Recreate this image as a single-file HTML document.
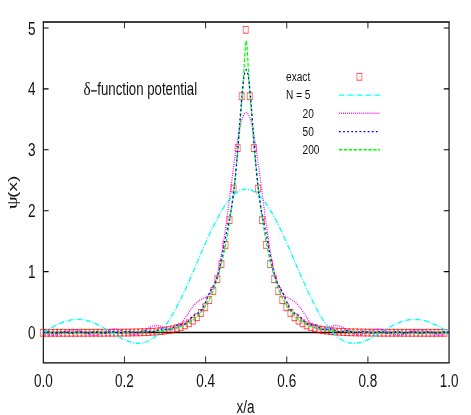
<!DOCTYPE html>
<html><head><meta charset="utf-8"><title>delta-function potential</title>
<style>html,body{margin:0;padding:0;background:#fff;}svg{display:block;will-change:transform;}text{font-family:"Liberation Sans",sans-serif;fill:#111;}</style></head><body>
<svg width="471" height="415" viewBox="0 0 471 415">
<rect x="0" y="0" width="471" height="415" fill="#ffffff"/>
<g stroke="#000" fill="none" stroke-linecap="butt">
<path stroke-width="1.45" d="M42.75,22.00H449.60M42.75,362.85H449.60"/>
<path stroke-width="1.10" d="M43.30,22.00V362.85M449.05,22.00V362.85"/>
<path stroke-width="0.9" stroke="#111" d="M124.45,362.85v-6.40M124.45,22.00v6.40M205.60,362.85v-6.40M205.60,22.00v6.40M286.75,362.85v-6.40M286.75,22.00v6.40M367.90,362.85v-6.40M367.90,22.00v6.40"/>
<path stroke-width="1.1" stroke="#000" d="M43.30,332.50h5.30M449.05,332.50h-5.30M43.30,271.60h5.30M449.05,271.60h-5.30M43.30,210.70h5.30M449.05,210.70h-5.30M43.30,149.80h5.30M449.05,149.80h-5.30M43.30,88.90h5.30M449.05,88.90h-5.30M43.30,28.00h5.30M449.05,28.00h-5.30"/>
<path d="M43.30,332.50 H449.05" stroke-width="1.35"/>
</g>
<text transform="translate(43.30,387.40) scale(0.713,1)" font-size="19.00" text-anchor="middle" >0.0</text>
<text transform="translate(124.45,387.40) scale(0.713,1)" font-size="19.00" text-anchor="middle" >0.2</text>
<text transform="translate(205.60,387.40) scale(0.713,1)" font-size="19.00" text-anchor="middle" >0.4</text>
<text transform="translate(286.75,387.40) scale(0.713,1)" font-size="19.00" text-anchor="middle" >0.6</text>
<text transform="translate(367.90,387.40) scale(0.713,1)" font-size="19.00" text-anchor="middle" >0.8</text>
<text transform="translate(449.05,387.40) scale(0.713,1)" font-size="19.00" text-anchor="middle" >1.0</text>
<text transform="translate(35.60,339.00) scale(0.713,1)" font-size="19.00" text-anchor="end" >0</text>
<text transform="translate(35.60,278.10) scale(0.713,1)" font-size="19.00" text-anchor="end" >1</text>
<text transform="translate(35.60,217.20) scale(0.713,1)" font-size="19.00" text-anchor="end" >2</text>
<text transform="translate(35.60,156.30) scale(0.713,1)" font-size="19.00" text-anchor="end" >3</text>
<text transform="translate(35.60,95.40) scale(0.713,1)" font-size="19.00" text-anchor="end" >4</text>
<text transform="translate(35.60,34.50) scale(0.713,1)" font-size="19.00" text-anchor="end" >5</text>
<text transform="translate(245.50,412.60) scale(0.713,1)" font-size="19.00" text-anchor="middle" >x/a</text>
<text transform="translate(17.0,209.3) scale(0.713,1) rotate(-90)" font-size="20.71" style="font-family:'Liberation Serif',serif">&#968;</text>
<text transform="translate(16.9,197.9) scale(0.713,1) rotate(-90)" font-size="19.00">(x)</text>
<text transform="translate(83.6,95) scale(0.80,1)" font-size="19.00" style="font-family:'Liberation Serif',serif">&#948;</text>
<path d="M90.9,90.9 H96.9" stroke="#111" stroke-width="1.3" fill="none"/>
<text transform="translate(97.3,95) scale(0.695,1)" font-size="19.00">function potential</text>
<text transform="translate(286.00,81.30) scale(0.740,1)" font-size="13.70" text-anchor="start" >exact</text>
<text transform="translate(286.00,99.40) scale(0.740,1)" font-size="13.70" text-anchor="start" >N = 5</text>
<text transform="translate(302.60,117.60) scale(0.740,1)" font-size="13.70" text-anchor="start" >20</text>
<text transform="translate(302.60,135.90) scale(0.740,1)" font-size="13.70" text-anchor="start" >50</text>
<text transform="translate(302.60,154.10) scale(0.740,1)" font-size="13.70" text-anchor="start" >200</text>
<g stroke="#ff0000" fill="none">
<path stroke-width="0.70" d="M40.15,329.40H45.65M40.15,336.20H45.65M44.21,329.40H49.71M44.21,336.20H49.71M48.27,329.40H53.77M48.27,336.20H53.77M52.32,329.40H57.82M52.32,336.20H57.82M56.38,329.40H61.88M56.38,336.20H61.88M60.44,329.40H65.94M60.44,336.20H65.94M64.49,329.39H69.99M64.49,336.19H69.99M68.55,329.39H74.05M68.55,336.19H74.05M72.61,329.39H78.11M72.61,336.19H78.11M76.67,329.39H82.17M76.67,336.19H82.17M80.72,329.38H86.22M80.72,336.18H86.22M84.78,329.38H90.28M84.78,336.18H90.28M88.84,329.38H94.34M88.84,336.18H94.34M92.90,329.37H98.40M92.90,336.17H98.40M96.95,329.36H102.45M96.95,336.16H102.45M101.01,329.35H106.51M101.01,336.15H106.51M105.07,329.33H110.57M105.07,336.13H110.57M109.13,329.31H114.63M109.13,336.11H114.63M113.18,329.29H118.68M113.18,336.09H118.68M117.24,329.26H122.74M117.24,336.06H122.74M121.30,329.22H126.80M121.30,336.02H126.80M125.36,329.17H130.86M125.36,335.97H130.86M129.41,329.10H134.91M129.41,335.90H134.91M133.47,329.02H138.97M133.47,335.82H138.97M137.53,328.91H143.03M137.53,335.71H143.03M141.59,328.78H147.09M141.59,335.58H147.09M145.65,328.60H151.15M145.65,335.40H151.15M149.70,328.38H155.20M149.70,335.18H155.20M153.76,328.09H159.26M153.76,334.89H159.26M157.82,327.72H163.32M157.82,334.52H163.32M161.87,327.25H167.37M161.87,334.05H167.37M165.93,326.65H171.43M165.93,333.45H171.43M169.99,325.88H175.49M169.99,332.68H175.49M174.05,324.89H179.55M174.05,331.69H179.55M178.10,323.62H183.60M178.10,330.42H183.60M182.16,322.00H187.66M182.16,328.80H187.66M186.22,319.93H191.72M186.22,326.73H191.72M190.28,317.26H195.78M190.28,324.06H195.78M194.34,313.86H199.84M194.34,320.66H199.84M198.39,309.49H203.89M198.39,316.29H203.89M202.45,303.90H207.95M202.45,310.70H207.95M206.51,296.74H212.01M206.51,303.54H212.01M210.56,287.57H216.06M210.56,294.37H216.06M214.62,275.82H220.12M214.62,282.62H220.12M218.68,260.78H224.18M218.68,267.58H224.18M222.74,241.50H228.24M222.74,248.30H228.24M226.79,216.82H232.29M226.79,223.62H232.29M230.85,185.21H236.35M230.85,192.01H236.35M234.91,144.72H240.41M234.91,151.52H240.41M238.97,92.85H244.47M238.97,99.65H244.47M243.03,26.43H248.53M243.03,33.23H248.53M247.08,92.85H252.58M247.08,99.65H252.58M251.14,144.72H256.64M251.14,151.52H256.64M255.20,185.21H260.70M255.20,192.01H260.70M259.26,216.82H264.76M259.26,223.62H264.76M263.31,241.50H268.81M263.31,248.30H268.81M267.37,260.78H272.87M267.37,267.58H272.87M271.43,275.82H276.93M271.43,282.62H276.93M275.49,287.57H280.99M275.49,294.37H280.99M279.54,296.74H285.04M279.54,303.54H285.04M283.60,303.90H289.10M283.60,310.70H289.10M287.66,309.49H293.16M287.66,316.29H293.16M291.72,313.86H297.22M291.72,320.66H297.22M295.77,317.26H301.27M295.77,324.06H301.27M299.83,319.93H305.33M299.83,326.73H305.33M303.89,322.00H309.39M303.89,328.80H309.39M307.95,323.62H313.45M307.95,330.42H313.45M312.00,324.89H317.50M312.00,331.69H317.50M316.06,325.88H321.56M316.06,332.68H321.56M320.12,326.65H325.62M320.12,333.45H325.62M324.18,327.25H329.68M324.18,334.05H329.68M328.23,327.72H333.73M328.23,334.52H333.73M332.29,328.09H337.79M332.29,334.89H337.79M336.35,328.38H341.85M336.35,335.18H341.85M340.41,328.60H345.91M340.41,335.40H345.91M344.46,328.78H349.96M344.46,335.58H349.96M348.52,328.91H354.02M348.52,335.71H354.02M352.58,329.02H358.08M352.58,335.82H358.08M356.64,329.10H362.14M356.64,335.90H362.14M360.69,329.17H366.19M360.69,335.97H366.19M364.75,329.22H370.25M364.75,336.02H370.25M368.81,329.26H374.31M368.81,336.06H374.31M372.87,329.29H378.37M372.87,336.09H378.37M376.92,329.31H382.42M376.92,336.11H382.42M380.98,329.33H386.48M380.98,336.13H386.48M385.04,329.35H390.54M385.04,336.15H390.54M389.10,329.36H394.60M389.10,336.16H394.60M393.15,329.37H398.65M393.15,336.17H398.65M397.21,329.38H402.71M397.21,336.18H402.71M401.27,329.38H406.77M401.27,336.18H406.77M405.33,329.38H410.83M405.33,336.18H410.83M409.38,329.39H414.88M409.38,336.19H414.88M413.44,329.39H418.94M413.44,336.19H418.94M417.50,329.39H423.00M417.50,336.19H423.00M421.56,329.39H427.06M421.56,336.19H427.06M425.61,329.40H431.11M425.61,336.20H431.11M429.67,329.40H435.17M429.67,336.20H435.17M433.73,329.40H439.23M433.73,336.20H439.23M437.79,329.40H443.29M437.79,336.20H443.29M441.84,329.40H447.34M441.84,336.20H447.34M356.65,73.40H362.15M356.65,80.20H362.15"/>
<path stroke-width="0.50" d="M40.40,329.40V336.20M45.40,329.40V336.20M44.46,329.40V336.20M49.46,329.40V336.20M48.52,329.40V336.20M53.52,329.40V336.20M52.57,329.40V336.20M57.57,329.40V336.20M56.63,329.40V336.20M61.63,329.40V336.20M60.69,329.40V336.20M65.69,329.40V336.20M64.74,329.39V336.19M69.74,329.39V336.19M68.80,329.39V336.19M73.80,329.39V336.19M72.86,329.39V336.19M77.86,329.39V336.19M76.92,329.39V336.19M81.92,329.39V336.19M80.97,329.38V336.18M85.97,329.38V336.18M85.03,329.38V336.18M90.03,329.38V336.18M89.09,329.38V336.18M94.09,329.38V336.18M93.15,329.37V336.17M98.15,329.37V336.17M97.20,329.36V336.16M102.20,329.36V336.16M101.26,329.35V336.15M106.26,329.35V336.15M105.32,329.33V336.13M110.32,329.33V336.13M109.38,329.31V336.11M114.38,329.31V336.11M113.43,329.29V336.09M118.43,329.29V336.09M117.49,329.26V336.06M122.49,329.26V336.06M121.55,329.22V336.02M126.55,329.22V336.02M125.61,329.17V335.97M130.61,329.17V335.97M129.66,329.10V335.90M134.66,329.10V335.90M133.72,329.02V335.82M138.72,329.02V335.82M137.78,328.91V335.71M142.78,328.91V335.71M141.84,328.78V335.58M146.84,328.78V335.58M145.90,328.60V335.40M150.90,328.60V335.40M149.95,328.38V335.18M154.95,328.38V335.18M154.01,328.09V334.89M159.01,328.09V334.89M158.07,327.72V334.52M163.07,327.72V334.52M162.12,327.25V334.05M167.12,327.25V334.05M166.18,326.65V333.45M171.18,326.65V333.45M170.24,325.88V332.68M175.24,325.88V332.68M174.30,324.89V331.69M179.30,324.89V331.69M178.35,323.62V330.42M183.35,323.62V330.42M182.41,322.00V328.80M187.41,322.00V328.80M186.47,319.93V326.73M191.47,319.93V326.73M190.53,317.26V324.06M195.53,317.26V324.06M194.59,313.86V320.66M199.59,313.86V320.66M198.64,309.49V316.29M203.64,309.49V316.29M202.70,303.90V310.70M207.70,303.90V310.70M206.76,296.74V303.54M211.76,296.74V303.54M210.81,287.57V294.37M215.81,287.57V294.37M214.87,275.82V282.62M219.87,275.82V282.62M218.93,260.78V267.58M223.93,260.78V267.58M222.99,241.50V248.30M227.99,241.50V248.30M227.04,216.82V223.62M232.04,216.82V223.62M231.10,185.21V192.01M236.10,185.21V192.01M235.16,144.72V151.52M240.16,144.72V151.52M239.22,92.85V99.65M244.22,92.85V99.65M243.28,26.43V33.23M248.28,26.43V33.23M247.33,92.85V99.65M252.33,92.85V99.65M251.39,144.72V151.52M256.39,144.72V151.52M255.45,185.21V192.01M260.45,185.21V192.01M259.51,216.82V223.62M264.51,216.82V223.62M263.56,241.50V248.30M268.56,241.50V248.30M267.62,260.78V267.58M272.62,260.78V267.58M271.68,275.82V282.62M276.68,275.82V282.62M275.74,287.57V294.37M280.74,287.57V294.37M279.79,296.74V303.54M284.79,296.74V303.54M283.85,303.90V310.70M288.85,303.90V310.70M287.91,309.49V316.29M292.91,309.49V316.29M291.97,313.86V320.66M296.97,313.86V320.66M296.02,317.26V324.06M301.02,317.26V324.06M300.08,319.93V326.73M305.08,319.93V326.73M304.14,322.00V328.80M309.14,322.00V328.80M308.20,323.62V330.42M313.20,323.62V330.42M312.25,324.89V331.69M317.25,324.89V331.69M316.31,325.88V332.68M321.31,325.88V332.68M320.37,326.65V333.45M325.37,326.65V333.45M324.43,327.25V334.05M329.43,327.25V334.05M328.48,327.72V334.52M333.48,327.72V334.52M332.54,328.09V334.89M337.54,328.09V334.89M336.60,328.38V335.18M341.60,328.38V335.18M340.66,328.60V335.40M345.66,328.60V335.40M344.71,328.78V335.58M349.71,328.78V335.58M348.77,328.91V335.71M353.77,328.91V335.71M352.83,329.02V335.82M357.83,329.02V335.82M356.89,329.10V335.90M361.89,329.10V335.90M360.94,329.17V335.97M365.94,329.17V335.97M365.00,329.22V336.02M370.00,329.22V336.02M369.06,329.26V336.06M374.06,329.26V336.06M373.12,329.29V336.09M378.12,329.29V336.09M377.17,329.31V336.11M382.17,329.31V336.11M381.23,329.33V336.13M386.23,329.33V336.13M385.29,329.35V336.15M390.29,329.35V336.15M389.35,329.36V336.16M394.35,329.36V336.16M393.40,329.37V336.17M398.40,329.37V336.17M397.46,329.38V336.18M402.46,329.38V336.18M401.52,329.38V336.18M406.52,329.38V336.18M405.58,329.38V336.18M410.58,329.38V336.18M409.63,329.39V336.19M414.63,329.39V336.19M413.69,329.39V336.19M418.69,329.39V336.19M417.75,329.39V336.19M422.75,329.39V336.19M421.81,329.39V336.19M426.81,329.39V336.19M425.86,329.40V336.20M430.86,329.40V336.20M429.92,329.40V336.20M434.92,329.40V336.20M433.98,329.40V336.20M438.98,329.40V336.20M438.04,329.40V336.20M443.04,329.40V336.20M442.09,329.40V336.20M447.09,329.40V336.20M356.90,73.40V80.20M361.90,73.40V80.20"/>
<path stroke-width="0.6" stroke-opacity="0.7" d="M42.60,332.80h0.6M46.66,332.80h0.6M50.72,332.80h0.6M54.77,332.80h0.6M58.83,332.80h0.6M62.89,332.80h0.6M66.94,332.79h0.6M71.00,332.79h0.6M75.06,332.79h0.6M79.12,332.79h0.6M83.17,332.78h0.6M87.23,332.78h0.6M91.29,332.78h0.6M95.35,332.77h0.6M99.41,332.76h0.6M103.46,332.75h0.6M107.52,332.73h0.6M111.58,332.71h0.6M115.63,332.69h0.6M119.69,332.66h0.6M123.75,332.62h0.6M127.81,332.57h0.6M131.86,332.50h0.6M135.92,332.42h0.6M139.98,332.31h0.6M144.04,332.18h0.6M148.09,332.00h0.6M152.15,331.78h0.6M156.21,331.49h0.6M160.27,331.12h0.6M164.32,330.65h0.6M168.38,330.05h0.6M172.44,329.28h0.6M176.50,328.29h0.6M180.55,327.02h0.6M184.61,325.40h0.6M188.67,323.33h0.6M192.73,320.66h0.6M196.78,317.26h0.6M200.84,312.89h0.6M204.90,307.30h0.6M208.96,300.14h0.6M213.01,290.97h0.6M217.07,279.22h0.6M221.13,264.18h0.6M225.19,244.90h0.6M229.24,220.22h0.6M233.30,188.61h0.6M237.36,148.12h0.6M241.42,96.25h0.6M245.47,29.83h0.6M249.53,96.25h0.6M253.59,148.12h0.6M257.65,188.61h0.6M261.71,220.22h0.6M265.76,244.90h0.6M269.82,264.18h0.6M273.88,279.22h0.6M277.94,290.97h0.6M281.99,300.14h0.6M286.05,307.30h0.6M290.11,312.89h0.6M294.17,317.26h0.6M298.22,320.66h0.6M302.28,323.33h0.6M306.34,325.40h0.6M310.40,327.02h0.6M314.45,328.29h0.6M318.51,329.28h0.6M322.57,330.05h0.6M326.62,330.65h0.6M330.68,331.12h0.6M334.74,331.49h0.6M338.80,331.78h0.6M342.86,332.00h0.6M346.91,332.18h0.6M350.97,332.31h0.6M355.03,332.42h0.6M359.09,332.50h0.6M363.14,332.57h0.6M367.20,332.62h0.6M371.26,332.66h0.6M375.31,332.69h0.6M379.37,332.71h0.6M383.43,332.73h0.6M387.49,332.75h0.6M391.55,332.76h0.6M395.60,332.77h0.6M399.66,332.78h0.6M403.72,332.78h0.6M407.78,332.78h0.6M411.83,332.79h0.6M415.89,332.79h0.6M419.95,332.79h0.6M424.00,332.79h0.6M428.06,332.80h0.6M432.12,332.80h0.6M436.18,332.80h0.6M440.24,332.80h0.6M444.29,332.80h0.6M359.10,76.80h0.6"/>
</g>
<g fill="none" stroke-width="1.40" stroke-linejoin="round" transform="scale(0.890,1)">
<path d="M380.90,95.10 H426.97" stroke="#00ffff" stroke-dasharray="5.6 1.7 1.1 1.7"/>
<path d="M380.90,113.30 H426.97" stroke="#ff00ff" stroke-dasharray="1.0 1.28"/>
<path d="M380.90,131.60 H426.97" stroke="#0000ff" stroke-dasharray="2.0 2.6"/>
<path d="M380.90,149.80 H426.97" stroke="#00ff00" stroke-dasharray="3.8 1.7"/>
<path d="M48.65,332.50 L49.56,332.01 L50.48,331.53 L51.39,331.04 L52.30,330.56 L53.21,330.08 L54.12,329.60 L55.03,329.13 L55.95,328.66 L56.86,328.20 L57.77,327.74 L58.68,327.29 L59.59,326.84 L60.51,326.41 L61.42,325.98 L62.33,325.56 L63.24,325.15 L64.15,324.75 L65.06,324.36 L65.98,323.98 L66.89,323.62 L67.80,323.26 L68.71,322.92 L69.62,322.59 L70.53,322.28 L71.45,321.98 L72.36,321.69 L73.27,321.42 L74.18,321.17 L75.09,320.92 L76.01,320.70 L76.92,320.49 L77.83,320.30 L78.74,320.12 L79.65,319.97 L80.56,319.83 L81.48,319.70 L82.39,319.60 L83.30,319.51 L84.21,319.44 L85.12,319.39 L86.04,319.36 L86.95,319.34 L87.86,319.35 L88.77,319.37 L89.68,319.41 L90.59,319.47 L91.51,319.55 L92.42,319.64 L93.33,319.75 L94.24,319.89 L95.15,320.04 L96.07,320.20 L96.98,320.39 L97.89,320.59 L98.80,320.81 L99.71,321.04 L100.62,321.29 L101.54,321.56 L102.45,321.84 L103.36,322.14 L104.27,322.46 L105.18,322.78 L106.09,323.13 L107.01,323.48 L107.92,323.85 L108.83,324.23 L109.74,324.62 L110.65,325.03 L111.57,325.44 L112.48,325.87 L113.39,326.30 L114.30,326.74 L115.21,327.19 L116.12,327.65 L117.04,328.12 L117.95,328.59 L118.86,329.07 L119.77,329.55 L120.68,330.04 L121.60,330.53 L122.51,331.02 L123.42,331.51 L124.33,332.01 L125.24,332.50 L126.15,333.00 L127.07,333.49 L127.98,333.98 L128.89,334.46 L129.80,334.94 L130.71,335.42 L131.63,335.89 L132.54,336.36 L133.45,336.81 L134.36,337.26 L135.27,337.70 L136.18,338.13 L137.10,338.54 L138.01,338.95 L138.92,339.34 L139.83,339.72 L140.74,340.08 L141.66,340.43 L142.57,340.76 L143.48,341.08 L144.39,341.38 L145.30,341.66 L146.21,341.91 L147.13,342.15 L148.04,342.37 L148.95,342.57 L149.86,342.74 L150.77,342.89 L151.68,343.01 L152.60,343.11 L153.51,343.19 L154.42,343.24 L155.33,343.26 L156.24,343.25 L157.16,343.22 L158.07,343.16 L158.98,343.06 L159.89,342.94 L160.80,342.79 L161.71,342.61 L162.63,342.39 L163.54,342.15 L164.45,341.87 L165.36,341.56 L166.27,341.21 L167.19,340.83 L168.10,340.42 L169.01,339.98 L169.92,339.50 L170.83,338.98 L171.74,338.43 L172.66,337.85 L173.57,337.23 L174.48,336.57 L175.39,335.88 L176.30,335.16 L177.22,334.40 L178.13,333.60 L179.04,332.77 L179.95,331.90 L180.86,331.00 L181.77,330.06 L182.69,329.09 L183.60,328.09 L184.51,327.05 L185.42,325.97 L186.33,324.86 L187.24,323.72 L188.16,322.54 L189.07,321.34 L189.98,320.10 L190.89,318.82 L191.80,317.52 L192.72,316.18 L193.63,314.82 L194.54,313.42 L195.45,312.00 L196.36,310.55 L197.27,309.07 L198.19,307.56 L199.10,306.03 L200.01,304.47 L200.92,302.88 L201.83,301.27 L202.75,299.64 L203.66,297.99 L204.57,296.31 L205.48,294.61 L206.39,292.90 L207.30,291.16 L208.22,289.41 L209.13,287.64 L210.04,285.85 L210.95,284.05 L211.86,282.24 L212.78,280.41 L213.69,278.57 L214.60,276.73 L215.51,274.87 L216.42,273.00 L217.33,271.13 L218.25,269.25 L219.16,267.37 L220.07,265.48 L220.98,263.59 L221.89,261.70 L222.81,259.81 L223.72,257.92 L224.63,256.03 L225.54,254.15 L226.45,252.27 L227.36,250.40 L228.28,248.54 L229.19,246.68 L230.10,244.84 L231.01,243.00 L231.92,241.18 L232.83,239.37 L233.75,237.58 L234.66,235.80 L235.57,234.04 L236.48,232.30 L237.39,230.57 L238.31,228.87 L239.22,227.19 L240.13,225.54 L241.04,223.90 L241.95,222.30 L242.86,220.72 L243.78,219.16 L244.69,217.64 L245.60,216.15 L246.51,214.68 L247.42,213.25 L248.34,211.85 L249.25,210.49 L250.16,209.16 L251.07,207.86 L251.98,206.61 L252.89,205.39 L253.81,204.21 L254.72,203.06 L255.63,201.96 L256.54,200.90 L257.45,199.88 L258.37,198.90 L259.28,197.97 L260.19,197.08 L261.10,196.23 L262.01,195.43 L262.92,194.68 L263.84,193.97 L264.75,193.31 L265.66,192.69 L266.57,192.12 L267.48,191.60 L268.39,191.13 L269.31,190.71 L270.22,190.34 L271.13,190.01 L272.04,189.74 L272.95,189.51 L273.87,189.34 L274.78,189.21 L275.69,189.14 L276.60,189.11 L277.51,189.14 L278.42,189.21 L279.34,189.34 L280.25,189.51 L281.16,189.74 L282.07,190.01 L282.98,190.34 L283.90,190.71 L284.81,191.13 L285.72,191.60 L286.63,192.12 L287.54,192.69 L288.45,193.31 L289.37,193.97 L290.28,194.68 L291.19,195.43 L292.10,196.23 L293.01,197.08 L293.93,197.97 L294.84,198.90 L295.75,199.88 L296.66,200.90 L297.57,201.96 L298.48,203.06 L299.40,204.21 L300.31,205.39 L301.22,206.61 L302.13,207.86 L303.04,209.16 L303.96,210.49 L304.87,211.85 L305.78,213.25 L306.69,214.68 L307.60,216.15 L308.51,217.64 L309.43,219.16 L310.34,220.72 L311.25,222.30 L312.16,223.90 L313.07,225.54 L313.98,227.19 L314.90,228.87 L315.81,230.57 L316.72,232.30 L317.63,234.04 L318.54,235.80 L319.46,237.58 L320.37,239.37 L321.28,241.18 L322.19,243.00 L323.10,244.84 L324.01,246.68 L324.93,248.54 L325.84,250.40 L326.75,252.27 L327.66,254.15 L328.57,256.03 L329.49,257.92 L330.40,259.81 L331.31,261.70 L332.22,263.59 L333.13,265.48 L334.04,267.37 L334.96,269.25 L335.87,271.13 L336.78,273.00 L337.69,274.87 L338.60,276.73 L339.52,278.57 L340.43,280.41 L341.34,282.24 L342.25,284.05 L343.16,285.85 L344.07,287.64 L344.99,289.41 L345.90,291.16 L346.81,292.90 L347.72,294.61 L348.63,296.31 L349.54,297.99 L350.46,299.64 L351.37,301.27 L352.28,302.88 L353.19,304.47 L354.10,306.03 L355.02,307.56 L355.93,309.07 L356.84,310.55 L357.75,312.00 L358.66,313.42 L359.57,314.82 L360.49,316.18 L361.40,317.52 L362.31,318.82 L363.22,320.10 L364.13,321.34 L365.05,322.54 L365.96,323.72 L366.87,324.86 L367.78,325.97 L368.69,327.05 L369.60,328.09 L370.52,329.09 L371.43,330.06 L372.34,331.00 L373.25,331.90 L374.16,332.77 L375.08,333.60 L375.99,334.40 L376.90,335.16 L377.81,335.88 L378.72,336.57 L379.63,337.23 L380.55,337.85 L381.46,338.43 L382.37,338.98 L383.28,339.50 L384.19,339.98 L385.11,340.42 L386.02,340.83 L386.93,341.21 L387.84,341.56 L388.75,341.87 L389.66,342.15 L390.58,342.39 L391.49,342.61 L392.40,342.79 L393.31,342.94 L394.22,343.06 L395.13,343.16 L396.05,343.22 L396.96,343.25 L397.87,343.26 L398.78,343.24 L399.69,343.19 L400.61,343.11 L401.52,343.01 L402.43,342.89 L403.34,342.74 L404.25,342.57 L405.16,342.37 L406.08,342.15 L406.99,341.91 L407.90,341.66 L408.81,341.38 L409.72,341.08 L410.64,340.76 L411.55,340.43 L412.46,340.08 L413.37,339.72 L414.28,339.34 L415.19,338.95 L416.11,338.54 L417.02,338.13 L417.93,337.70 L418.84,337.26 L419.75,336.81 L420.67,336.36 L421.58,335.89 L422.49,335.42 L423.40,334.94 L424.31,334.46 L425.22,333.98 L426.14,333.49 L427.05,333.00 L427.96,332.50 L428.87,332.01 L429.78,331.51 L430.69,331.02 L431.61,330.53 L432.52,330.04 L433.43,329.55 L434.34,329.07 L435.25,328.59 L436.17,328.12 L437.08,327.65 L437.99,327.19 L438.90,326.74 L439.81,326.30 L440.72,325.87 L441.64,325.44 L442.55,325.03 L443.46,324.62 L444.37,324.23 L445.28,323.85 L446.20,323.48 L447.11,323.13 L448.02,322.78 L448.93,322.46 L449.84,322.14 L450.75,321.84 L451.67,321.56 L452.58,321.29 L453.49,321.04 L454.40,320.81 L455.31,320.59 L456.23,320.39 L457.14,320.20 L458.05,320.04 L458.96,319.89 L459.87,319.75 L460.78,319.64 L461.70,319.55 L462.61,319.47 L463.52,319.41 L464.43,319.37 L465.34,319.35 L466.26,319.34 L467.17,319.36 L468.08,319.39 L468.99,319.44 L469.90,319.51 L470.81,319.60 L471.73,319.70 L472.64,319.83 L473.55,319.97 L474.46,320.12 L475.37,320.30 L476.28,320.49 L477.20,320.70 L478.11,320.92 L479.02,321.17 L479.93,321.42 L480.84,321.69 L481.76,321.98 L482.67,322.28 L483.58,322.59 L484.49,322.92 L485.40,323.26 L486.31,323.62 L487.23,323.98 L488.14,324.36 L489.05,324.75 L489.96,325.15 L490.87,325.56 L491.79,325.98 L492.70,326.41 L493.61,326.84 L494.52,327.29 L495.43,327.74 L496.34,328.20 L497.26,328.66 L498.17,329.13 L499.08,329.60 L499.99,330.08 L500.90,330.56 L501.82,331.04 L502.73,331.53 L503.64,332.01 L504.55,332.50" stroke="#00ffff" stroke-dasharray="5.6 1.7 1.1 1.7"/>
<path d="M48.65,332.50 L49.56,332.81 L50.48,333.12 L51.39,333.42 L52.30,333.70 L53.21,333.97 L54.12,334.21 L55.03,334.42 L55.95,334.60 L56.86,334.75 L57.77,334.87 L58.68,334.94 L59.59,334.98 L60.51,334.98 L61.42,334.94 L62.33,334.86 L63.24,334.74 L64.15,334.58 L65.06,334.40 L65.98,334.18 L66.89,333.93 L67.80,333.66 L68.71,333.37 L69.62,333.07 L70.53,332.75 L71.45,332.43 L72.36,332.11 L73.27,331.80 L74.18,331.50 L75.09,331.21 L76.01,330.94 L76.92,330.69 L77.83,330.47 L78.74,330.28 L79.65,330.13 L80.56,330.01 L81.48,329.93 L82.39,329.89 L83.30,329.89 L84.21,329.93 L85.12,330.01 L86.04,330.13 L86.95,330.29 L87.86,330.48 L88.77,330.70 L89.68,330.96 L90.59,331.23 L91.51,331.53 L92.42,331.84 L93.33,332.16 L94.24,332.48 L95.15,332.81 L96.07,333.13 L96.98,333.44 L97.89,333.73 L98.80,334.01 L99.71,334.26 L100.62,334.48 L101.54,334.67 L102.45,334.82 L103.36,334.93 L104.27,335.01 L105.18,335.04 L106.09,335.03 L107.01,334.97 L107.92,334.87 L108.83,334.73 L109.74,334.56 L110.65,334.34 L111.57,334.09 L112.48,333.81 L113.39,333.51 L114.30,333.18 L115.21,332.83 L116.12,332.48 L117.04,332.12 L117.95,331.75 L118.86,331.40 L119.77,331.05 L120.68,330.72 L121.60,330.41 L122.51,330.12 L123.42,329.87 L124.33,329.65 L125.24,329.47 L126.15,329.33 L127.07,329.23 L127.98,329.18 L128.89,329.17 L129.80,329.21 L130.71,329.29 L131.63,329.42 L132.54,329.59 L133.45,329.80 L134.36,330.04 L135.27,330.32 L136.18,330.62 L137.10,330.95 L138.01,331.29 L138.92,331.64 L139.83,332.00 L140.74,332.36 L141.66,332.72 L142.57,333.05 L143.48,333.37 L144.39,333.67 L145.30,333.93 L146.21,334.16 L147.13,334.35 L148.04,334.49 L148.95,334.59 L149.86,334.64 L150.77,334.63 L151.68,334.57 L152.60,334.46 L153.51,334.29 L154.42,334.07 L155.33,333.80 L156.24,333.48 L157.16,333.12 L158.07,332.72 L158.98,332.28 L159.89,331.82 L160.80,331.33 L161.71,330.82 L162.63,330.31 L163.54,329.79 L164.45,329.27 L165.36,328.77 L166.27,328.28 L167.19,327.82 L168.10,327.38 L169.01,326.98 L169.92,326.63 L170.83,326.31 L171.74,326.05 L172.66,325.84 L173.57,325.68 L174.48,325.58 L175.39,325.54 L176.30,325.55 L177.22,325.62 L178.13,325.73 L179.04,325.90 L179.95,326.10 L180.86,326.35 L181.77,326.63 L182.69,326.93 L183.60,327.25 L184.51,327.58 L185.42,327.91 L186.33,328.24 L187.24,328.54 L188.16,328.83 L189.07,329.08 L189.98,329.28 L190.89,329.44 L191.80,329.54 L192.72,329.57 L193.63,329.53 L194.54,329.41 L195.45,329.22 L196.36,328.93 L197.27,328.56 L198.19,328.09 L199.10,327.54 L200.01,326.90 L200.92,326.17 L201.83,325.36 L202.75,324.46 L203.66,323.50 L204.57,322.46 L205.48,321.37 L206.39,320.23 L207.30,319.04 L208.22,317.82 L209.13,316.57 L210.04,315.31 L210.95,314.05 L211.86,312.80 L212.78,311.57 L213.69,310.36 L214.60,309.18 L215.51,308.06 L216.42,306.98 L217.33,305.96 L218.25,305.00 L219.16,304.11 L220.07,303.28 L220.98,302.52 L221.89,301.83 L222.81,301.21 L223.72,300.64 L224.63,300.12 L225.54,299.65 L226.45,299.21 L227.36,298.80 L228.28,298.39 L229.19,297.99 L230.10,297.55 L231.01,297.08 L231.92,296.56 L232.83,295.96 L233.75,295.26 L234.66,294.45 L235.57,293.51 L236.48,292.41 L237.39,291.14 L238.31,289.68 L239.22,288.01 L240.13,286.12 L241.04,283.98 L241.95,281.60 L242.86,278.94 L243.78,276.02 L244.69,272.81 L245.60,269.32 L246.51,265.54 L247.42,261.48 L248.34,257.14 L249.25,252.52 L250.16,247.64 L251.07,242.52 L251.98,237.15 L252.89,231.57 L253.81,225.80 L254.72,219.86 L255.63,213.78 L256.54,207.58 L257.45,201.30 L258.37,194.98 L259.28,188.64 L260.19,182.32 L261.10,176.06 L262.01,169.90 L262.92,163.87 L263.84,158.02 L264.75,152.37 L265.66,146.98 L266.57,141.86 L267.48,137.07 L268.39,132.62 L269.31,128.55 L270.22,124.89 L271.13,121.67 L272.04,118.90 L272.95,116.60 L273.87,114.80 L274.78,113.51 L275.69,112.73 L276.60,112.47 L277.51,112.73 L278.42,113.51 L279.34,114.80 L280.25,116.60 L281.16,118.90 L282.07,121.67 L282.98,124.89 L283.90,128.55 L284.81,132.62 L285.72,137.07 L286.63,141.86 L287.54,146.98 L288.45,152.37 L289.37,158.02 L290.28,163.87 L291.19,169.90 L292.10,176.06 L293.01,182.32 L293.93,188.64 L294.84,194.98 L295.75,201.30 L296.66,207.58 L297.57,213.78 L298.48,219.86 L299.40,225.80 L300.31,231.57 L301.22,237.15 L302.13,242.52 L303.04,247.64 L303.96,252.52 L304.87,257.14 L305.78,261.48 L306.69,265.54 L307.60,269.32 L308.51,272.81 L309.43,276.02 L310.34,278.94 L311.25,281.60 L312.16,283.98 L313.07,286.12 L313.98,288.01 L314.90,289.68 L315.81,291.14 L316.72,292.41 L317.63,293.51 L318.54,294.45 L319.46,295.26 L320.37,295.96 L321.28,296.56 L322.19,297.08 L323.10,297.55 L324.01,297.99 L324.93,298.39 L325.84,298.80 L326.75,299.21 L327.66,299.65 L328.57,300.12 L329.49,300.64 L330.40,301.21 L331.31,301.83 L332.22,302.52 L333.13,303.28 L334.04,304.11 L334.96,305.00 L335.87,305.96 L336.78,306.98 L337.69,308.06 L338.60,309.18 L339.52,310.36 L340.43,311.57 L341.34,312.80 L342.25,314.05 L343.16,315.31 L344.07,316.57 L344.99,317.82 L345.90,319.04 L346.81,320.23 L347.72,321.37 L348.63,322.46 L349.54,323.50 L350.46,324.46 L351.37,325.36 L352.28,326.17 L353.19,326.90 L354.10,327.54 L355.02,328.09 L355.93,328.56 L356.84,328.93 L357.75,329.22 L358.66,329.41 L359.57,329.53 L360.49,329.57 L361.40,329.54 L362.31,329.44 L363.22,329.28 L364.13,329.08 L365.05,328.83 L365.96,328.54 L366.87,328.24 L367.78,327.91 L368.69,327.58 L369.60,327.25 L370.52,326.93 L371.43,326.63 L372.34,326.35 L373.25,326.10 L374.16,325.90 L375.08,325.73 L375.99,325.62 L376.90,325.55 L377.81,325.54 L378.72,325.58 L379.63,325.68 L380.55,325.84 L381.46,326.05 L382.37,326.31 L383.28,326.63 L384.19,326.98 L385.11,327.38 L386.02,327.82 L386.93,328.28 L387.84,328.77 L388.75,329.27 L389.66,329.79 L390.58,330.31 L391.49,330.82 L392.40,331.33 L393.31,331.82 L394.22,332.28 L395.13,332.72 L396.05,333.12 L396.96,333.48 L397.87,333.80 L398.78,334.07 L399.69,334.29 L400.61,334.46 L401.52,334.57 L402.43,334.63 L403.34,334.64 L404.25,334.59 L405.16,334.49 L406.08,334.35 L406.99,334.16 L407.90,333.93 L408.81,333.67 L409.72,333.37 L410.64,333.05 L411.55,332.72 L412.46,332.36 L413.37,332.00 L414.28,331.64 L415.19,331.29 L416.11,330.95 L417.02,330.62 L417.93,330.32 L418.84,330.04 L419.75,329.80 L420.67,329.59 L421.58,329.42 L422.49,329.29 L423.40,329.21 L424.31,329.17 L425.22,329.18 L426.14,329.23 L427.05,329.33 L427.96,329.47 L428.87,329.65 L429.78,329.87 L430.69,330.12 L431.61,330.41 L432.52,330.72 L433.43,331.05 L434.34,331.40 L435.25,331.75 L436.17,332.12 L437.08,332.48 L437.99,332.83 L438.90,333.18 L439.81,333.51 L440.72,333.81 L441.64,334.09 L442.55,334.34 L443.46,334.56 L444.37,334.73 L445.28,334.87 L446.20,334.97 L447.11,335.03 L448.02,335.04 L448.93,335.01 L449.84,334.93 L450.75,334.82 L451.67,334.67 L452.58,334.48 L453.49,334.26 L454.40,334.01 L455.31,333.73 L456.23,333.44 L457.14,333.13 L458.05,332.81 L458.96,332.48 L459.87,332.16 L460.78,331.84 L461.70,331.53 L462.61,331.23 L463.52,330.96 L464.43,330.70 L465.34,330.48 L466.26,330.29 L467.17,330.13 L468.08,330.01 L468.99,329.93 L469.90,329.89 L470.81,329.89 L471.73,329.93 L472.64,330.01 L473.55,330.13 L474.46,330.28 L475.37,330.47 L476.28,330.69 L477.20,330.94 L478.11,331.21 L479.02,331.50 L479.93,331.80 L480.84,332.11 L481.76,332.43 L482.67,332.75 L483.58,333.07 L484.49,333.37 L485.40,333.66 L486.31,333.93 L487.23,334.18 L488.14,334.40 L489.05,334.58 L489.96,334.74 L490.87,334.86 L491.79,334.94 L492.70,334.98 L493.61,334.98 L494.52,334.94 L495.43,334.87 L496.34,334.75 L497.26,334.60 L498.17,334.42 L499.08,334.21 L499.99,333.97 L500.90,333.70 L501.82,333.42 L502.73,333.12 L503.64,332.81 L504.55,332.50" stroke="#ff00ff" stroke-dasharray="1.0 1.28"/>
<path d="M48.65,332.50 L49.56,332.53 L50.48,332.52 L51.39,332.48 L52.30,332.46 L53.21,332.50 L54.12,332.53 L55.03,332.52 L55.95,332.48 L56.86,332.46 L57.77,332.50 L58.68,332.53 L59.59,332.52 L60.51,332.48 L61.42,332.46 L62.33,332.50 L63.24,332.53 L64.15,332.52 L65.06,332.47 L65.98,332.46 L66.89,332.50 L67.80,332.53 L68.71,332.52 L69.62,332.47 L70.53,332.46 L71.45,332.49 L72.36,332.53 L73.27,332.52 L74.18,332.47 L75.09,332.46 L76.01,332.49 L76.92,332.53 L77.83,332.51 L78.74,332.47 L79.65,332.46 L80.56,332.49 L81.48,332.53 L82.39,332.51 L83.30,332.47 L84.21,332.45 L85.12,332.49 L86.04,332.52 L86.95,332.51 L87.86,332.46 L88.77,332.45 L89.68,332.49 L90.59,332.52 L91.51,332.51 L92.42,332.46 L93.33,332.45 L94.24,332.48 L95.15,332.52 L96.07,332.50 L96.98,332.46 L97.89,332.44 L98.80,332.48 L99.71,332.51 L100.62,332.50 L101.54,332.45 L102.45,332.43 L103.36,332.47 L104.27,332.51 L105.18,332.49 L106.09,332.44 L107.01,332.42 L107.92,332.46 L108.83,332.50 L109.74,332.48 L110.65,332.43 L111.57,332.41 L112.48,332.45 L113.39,332.49 L114.30,332.47 L115.21,332.42 L116.12,332.40 L117.04,332.44 L117.95,332.47 L118.86,332.45 L119.77,332.40 L120.68,332.38 L121.60,332.42 L122.51,332.45 L123.42,332.43 L124.33,332.38 L125.24,332.36 L126.15,332.40 L127.07,332.43 L127.98,332.41 L128.89,332.35 L129.80,332.33 L130.71,332.37 L131.63,332.40 L132.54,332.38 L133.45,332.32 L134.36,332.30 L135.27,332.33 L136.18,332.37 L137.10,332.34 L138.01,332.28 L138.92,332.25 L139.83,332.29 L140.74,332.32 L141.66,332.29 L142.57,332.23 L143.48,332.20 L144.39,332.23 L145.30,332.26 L146.21,332.23 L147.13,332.16 L148.04,332.12 L148.95,332.15 L149.86,332.18 L150.77,332.15 L151.68,332.07 L152.60,332.03 L153.51,332.06 L154.42,332.08 L155.33,332.04 L156.24,331.96 L157.16,331.92 L158.07,331.94 L158.98,331.96 L159.89,331.91 L160.80,331.82 L161.71,331.77 L162.63,331.79 L163.54,331.80 L164.45,331.74 L165.36,331.64 L166.27,331.58 L167.19,331.59 L168.10,331.60 L169.01,331.53 L169.92,331.41 L170.83,331.34 L171.74,331.34 L172.66,331.34 L173.57,331.26 L174.48,331.13 L175.39,331.04 L176.30,331.02 L177.22,331.01 L178.13,330.91 L179.04,330.76 L179.95,330.65 L180.86,330.62 L181.77,330.59 L182.69,330.47 L183.60,330.29 L184.51,330.16 L185.42,330.11 L186.33,330.05 L187.24,329.90 L188.16,329.70 L189.07,329.54 L189.98,329.46 L190.89,329.37 L191.80,329.18 L192.72,328.94 L193.63,328.74 L194.54,328.62 L195.45,328.50 L196.36,328.27 L197.27,327.98 L198.19,327.73 L199.10,327.56 L200.01,327.39 L200.92,327.11 L201.83,326.75 L202.75,326.44 L203.66,326.22 L204.57,325.98 L205.48,325.62 L206.39,325.19 L207.30,324.80 L208.22,324.50 L209.13,324.18 L210.04,323.73 L210.95,323.20 L211.86,322.71 L212.78,322.32 L213.69,321.89 L214.60,321.33 L215.51,320.67 L216.42,320.06 L217.33,319.53 L218.25,318.98 L219.16,318.27 L220.07,317.45 L220.98,316.68 L221.89,315.99 L222.81,315.27 L223.72,314.38 L224.63,313.35 L225.54,312.37 L226.45,311.49 L227.36,310.55 L228.28,309.41 L229.19,308.14 L230.10,306.90 L231.01,305.75 L231.92,304.53 L232.83,303.10 L233.75,301.49 L234.66,299.92 L235.57,298.44 L236.48,296.88 L237.39,295.06 L238.31,293.04 L239.22,291.04 L240.13,289.14 L241.04,287.13 L241.95,284.82 L242.86,282.27 L243.78,279.74 L244.69,277.30 L245.60,274.72 L246.51,271.79 L247.42,268.57 L248.34,265.35 L249.25,262.22 L250.16,258.93 L251.07,255.20 L251.98,251.12 L252.89,247.03 L253.81,243.03 L254.72,238.83 L255.63,234.08 L256.54,228.90 L257.45,223.70 L258.37,218.60 L259.28,213.24 L260.19,207.20 L261.10,200.60 L262.01,193.98 L262.92,187.51 L263.84,180.70 L264.75,172.98 L265.66,164.53 L266.57,156.10 L267.48,147.95 L268.39,139.35 L269.31,129.44 L270.22,118.49 L271.13,107.74 L272.04,97.74 L272.95,87.12 L273.87,73.96 L274.78,58.76 L275.69,45.76 L276.60,40.57 L277.51,45.76 L278.42,58.76 L279.34,73.96 L280.25,87.12 L281.16,97.74 L282.07,107.74 L282.98,118.49 L283.90,129.44 L284.81,139.35 L285.72,147.95 L286.63,156.10 L287.54,164.53 L288.45,172.98 L289.37,180.70 L290.28,187.51 L291.19,193.98 L292.10,200.60 L293.01,207.20 L293.93,213.24 L294.84,218.60 L295.75,223.70 L296.66,228.90 L297.57,234.08 L298.48,238.83 L299.40,243.03 L300.31,247.03 L301.22,251.12 L302.13,255.20 L303.04,258.93 L303.96,262.22 L304.87,265.35 L305.78,268.57 L306.69,271.79 L307.60,274.72 L308.51,277.30 L309.43,279.74 L310.34,282.27 L311.25,284.82 L312.16,287.13 L313.07,289.14 L313.98,291.04 L314.90,293.04 L315.81,295.06 L316.72,296.88 L317.63,298.44 L318.54,299.92 L319.46,301.49 L320.37,303.10 L321.28,304.53 L322.19,305.75 L323.10,306.90 L324.01,308.14 L324.93,309.41 L325.84,310.55 L326.75,311.49 L327.66,312.37 L328.57,313.35 L329.49,314.38 L330.40,315.27 L331.31,315.99 L332.22,316.68 L333.13,317.45 L334.04,318.27 L334.96,318.98 L335.87,319.53 L336.78,320.06 L337.69,320.67 L338.60,321.33 L339.52,321.89 L340.43,322.32 L341.34,322.71 L342.25,323.20 L343.16,323.73 L344.07,324.18 L344.99,324.50 L345.90,324.80 L346.81,325.19 L347.72,325.62 L348.63,325.98 L349.54,326.22 L350.46,326.44 L351.37,326.75 L352.28,327.11 L353.19,327.39 L354.10,327.56 L355.02,327.73 L355.93,327.98 L356.84,328.27 L357.75,328.50 L358.66,328.62 L359.57,328.74 L360.49,328.94 L361.40,329.18 L362.31,329.37 L363.22,329.46 L364.13,329.54 L365.05,329.70 L365.96,329.90 L366.87,330.05 L367.78,330.11 L368.69,330.16 L369.60,330.29 L370.52,330.47 L371.43,330.59 L372.34,330.62 L373.25,330.65 L374.16,330.76 L375.08,330.91 L375.99,331.01 L376.90,331.02 L377.81,331.04 L378.72,331.13 L379.63,331.26 L380.55,331.34 L381.46,331.34 L382.37,331.34 L383.28,331.41 L384.19,331.53 L385.11,331.60 L386.02,331.59 L386.93,331.58 L387.84,331.64 L388.75,331.74 L389.66,331.80 L390.58,331.79 L391.49,331.77 L392.40,331.82 L393.31,331.91 L394.22,331.96 L395.13,331.94 L396.05,331.92 L396.96,331.96 L397.87,332.04 L398.78,332.08 L399.69,332.06 L400.61,332.03 L401.52,332.07 L402.43,332.15 L403.34,332.18 L404.25,332.15 L405.16,332.12 L406.08,332.16 L406.99,332.23 L407.90,332.26 L408.81,332.23 L409.72,332.20 L410.64,332.23 L411.55,332.29 L412.46,332.32 L413.37,332.29 L414.28,332.25 L415.19,332.28 L416.11,332.34 L417.02,332.37 L417.93,332.33 L418.84,332.30 L419.75,332.32 L420.67,332.38 L421.58,332.40 L422.49,332.37 L423.40,332.33 L424.31,332.35 L425.22,332.41 L426.14,332.43 L427.05,332.40 L427.96,332.36 L428.87,332.38 L429.78,332.43 L430.69,332.45 L431.61,332.42 L432.52,332.38 L433.43,332.40 L434.34,332.45 L435.25,332.47 L436.17,332.44 L437.08,332.40 L437.99,332.42 L438.90,332.47 L439.81,332.49 L440.72,332.45 L441.64,332.41 L442.55,332.43 L443.46,332.48 L444.37,332.50 L445.28,332.46 L446.20,332.42 L447.11,332.44 L448.02,332.49 L448.93,332.51 L449.84,332.47 L450.75,332.43 L451.67,332.45 L452.58,332.50 L453.49,332.51 L454.40,332.48 L455.31,332.44 L456.23,332.46 L457.14,332.50 L458.05,332.52 L458.96,332.48 L459.87,332.45 L460.78,332.46 L461.70,332.51 L462.61,332.52 L463.52,332.49 L464.43,332.45 L465.34,332.46 L466.26,332.51 L467.17,332.52 L468.08,332.49 L468.99,332.45 L469.90,332.47 L470.81,332.51 L471.73,332.53 L472.64,332.49 L473.55,332.46 L474.46,332.47 L475.37,332.51 L476.28,332.53 L477.20,332.49 L478.11,332.46 L479.02,332.47 L479.93,332.52 L480.84,332.53 L481.76,332.49 L482.67,332.46 L483.58,332.47 L484.49,332.52 L485.40,332.53 L486.31,332.50 L487.23,332.46 L488.14,332.47 L489.05,332.52 L489.96,332.53 L490.87,332.50 L491.79,332.46 L492.70,332.48 L493.61,332.52 L494.52,332.53 L495.43,332.50 L496.34,332.46 L497.26,332.48 L498.17,332.52 L499.08,332.53 L499.99,332.50 L500.90,332.46 L501.82,332.48 L502.73,332.52 L503.64,332.53 L504.55,332.50" stroke="#00ff00" stroke-dasharray="3.8 1.7"/>
<path d="M48.65,332.50 L49.56,332.34 L50.48,332.20 L51.39,332.08 L52.30,332.01 L53.21,331.98 L54.12,332.01 L55.03,332.08 L55.95,332.19 L56.86,332.34 L57.77,332.50 L58.68,332.66 L59.59,332.80 L60.51,332.92 L61.42,332.99 L62.33,333.01 L63.24,332.99 L64.15,332.91 L65.06,332.80 L65.98,332.65 L66.89,332.49 L67.80,332.33 L68.71,332.18 L69.62,332.07 L70.53,331.99 L71.45,331.97 L72.36,331.99 L73.27,332.07 L74.18,332.18 L75.09,332.33 L76.01,332.49 L76.92,332.65 L77.83,332.80 L78.74,332.91 L79.65,332.99 L80.56,333.01 L81.48,332.98 L82.39,332.91 L83.30,332.79 L84.21,332.64 L85.12,332.47 L86.04,332.31 L86.95,332.16 L87.86,332.04 L88.77,331.96 L89.68,331.93 L90.59,331.96 L91.51,332.04 L92.42,332.16 L93.33,332.31 L94.24,332.47 L95.15,332.64 L96.07,332.79 L96.98,332.91 L97.89,332.98 L98.80,333.00 L99.71,332.97 L100.62,332.89 L101.54,332.77 L102.45,332.61 L103.36,332.44 L104.27,332.26 L105.18,332.10 L106.09,331.98 L107.01,331.90 L107.92,331.87 L108.83,331.89 L109.74,331.97 L110.65,332.10 L111.57,332.25 L112.48,332.42 L113.39,332.60 L114.30,332.75 L115.21,332.87 L116.12,332.95 L117.04,332.97 L117.95,332.93 L118.86,332.84 L119.77,332.71 L120.68,332.54 L121.60,332.35 L122.51,332.16 L123.42,331.99 L124.33,331.85 L125.24,331.76 L126.15,331.73 L127.07,331.75 L127.98,331.83 L128.89,331.96 L129.80,332.12 L130.71,332.30 L131.63,332.48 L132.54,332.64 L133.45,332.76 L134.36,332.84 L135.27,332.85 L136.18,332.81 L137.10,332.70 L138.01,332.55 L138.92,332.36 L139.83,332.14 L140.74,331.93 L141.66,331.74 L142.57,331.58 L143.48,331.47 L144.39,331.42 L145.30,331.44 L146.21,331.52 L147.13,331.64 L148.04,331.81 L148.95,331.99 L149.86,332.17 L150.77,332.34 L151.68,332.46 L152.60,332.52 L153.51,332.52 L154.42,332.46 L155.33,332.32 L156.24,332.13 L157.16,331.90 L158.07,331.64 L158.98,331.39 L159.89,331.15 L160.80,330.95 L161.71,330.81 L162.63,330.73 L163.54,330.72 L164.45,330.78 L165.36,330.90 L166.27,331.05 L167.19,331.23 L168.10,331.40 L169.01,331.55 L169.92,331.65 L170.83,331.69 L171.74,331.65 L172.66,331.53 L173.57,331.33 L174.48,331.07 L175.39,330.76 L176.30,330.42 L177.22,330.07 L178.13,329.75 L179.04,329.47 L179.95,329.25 L180.86,329.10 L181.77,329.03 L182.69,329.03 L183.60,329.10 L184.51,329.21 L185.42,329.34 L186.33,329.46 L187.24,329.55 L188.16,329.59 L189.07,329.54 L189.98,329.40 L190.89,329.16 L191.80,328.83 L192.72,328.41 L193.63,327.93 L194.54,327.41 L195.45,326.88 L196.36,326.37 L197.27,325.91 L198.19,325.51 L199.10,325.19 L200.01,324.96 L200.92,324.82 L201.83,324.74 L202.75,324.70 L203.66,324.69 L204.57,324.65 L205.48,324.57 L206.39,324.41 L207.30,324.14 L208.22,323.75 L209.13,323.22 L210.04,322.57 L210.95,321.80 L211.86,320.94 L212.78,320.03 L213.69,319.08 L214.60,318.15 L215.51,317.26 L216.42,316.44 L217.33,315.72 L218.25,315.08 L219.16,314.54 L220.07,314.07 L220.98,313.65 L221.89,313.22 L222.81,312.76 L223.72,312.22 L224.63,311.54 L225.54,310.71 L226.45,309.69 L227.36,308.47 L228.28,307.05 L229.19,305.46 L230.10,303.71 L231.01,301.86 L231.92,299.94 L232.83,298.02 L233.75,296.12 L234.66,294.29 L235.57,292.56 L236.48,290.94 L237.39,289.41 L238.31,287.94 L239.22,286.51 L240.13,285.04 L241.04,283.48 L241.95,281.75 L242.86,279.79 L243.78,277.54 L244.69,274.96 L245.60,272.03 L246.51,268.74 L247.42,265.12 L248.34,261.21 L249.25,257.08 L250.16,252.79 L251.07,248.43 L251.98,244.08 L252.89,239.79 L253.81,235.62 L254.72,231.58 L255.63,227.66 L256.54,223.83 L257.45,219.99 L258.37,216.04 L259.28,211.85 L260.19,207.29 L261.10,202.20 L262.01,196.46 L262.92,189.95 L263.84,182.60 L264.75,174.38 L265.66,165.34 L266.57,155.56 L267.48,145.19 L268.39,134.44 L269.31,123.59 L270.22,112.92 L271.13,102.76 L272.04,93.45 L272.95,85.31 L273.87,78.64 L274.78,73.68 L275.69,70.62 L276.60,69.59 L277.51,70.62 L278.42,73.68 L279.34,78.64 L280.25,85.31 L281.16,93.45 L282.07,102.76 L282.98,112.92 L283.90,123.59 L284.81,134.44 L285.72,145.19 L286.63,155.56 L287.54,165.34 L288.45,174.38 L289.37,182.60 L290.28,189.95 L291.19,196.46 L292.10,202.20 L293.01,207.29 L293.93,211.85 L294.84,216.04 L295.75,219.99 L296.66,223.83 L297.57,227.66 L298.48,231.58 L299.40,235.62 L300.31,239.79 L301.22,244.08 L302.13,248.43 L303.04,252.79 L303.96,257.08 L304.87,261.21 L305.78,265.12 L306.69,268.74 L307.60,272.03 L308.51,274.96 L309.43,277.54 L310.34,279.79 L311.25,281.75 L312.16,283.48 L313.07,285.04 L313.98,286.51 L314.90,287.94 L315.81,289.41 L316.72,290.94 L317.63,292.56 L318.54,294.29 L319.46,296.12 L320.37,298.02 L321.28,299.94 L322.19,301.86 L323.10,303.71 L324.01,305.46 L324.93,307.05 L325.84,308.47 L326.75,309.69 L327.66,310.71 L328.57,311.54 L329.49,312.22 L330.40,312.76 L331.31,313.22 L332.22,313.65 L333.13,314.07 L334.04,314.54 L334.96,315.08 L335.87,315.72 L336.78,316.44 L337.69,317.26 L338.60,318.15 L339.52,319.08 L340.43,320.03 L341.34,320.94 L342.25,321.80 L343.16,322.57 L344.07,323.22 L344.99,323.75 L345.90,324.14 L346.81,324.41 L347.72,324.57 L348.63,324.65 L349.54,324.69 L350.46,324.70 L351.37,324.74 L352.28,324.82 L353.19,324.96 L354.10,325.19 L355.02,325.51 L355.93,325.91 L356.84,326.37 L357.75,326.88 L358.66,327.41 L359.57,327.93 L360.49,328.41 L361.40,328.83 L362.31,329.16 L363.22,329.40 L364.13,329.54 L365.05,329.59 L365.96,329.55 L366.87,329.46 L367.78,329.34 L368.69,329.21 L369.60,329.10 L370.52,329.03 L371.43,329.03 L372.34,329.10 L373.25,329.25 L374.16,329.47 L375.08,329.75 L375.99,330.07 L376.90,330.42 L377.81,330.76 L378.72,331.07 L379.63,331.33 L380.55,331.53 L381.46,331.65 L382.37,331.69 L383.28,331.65 L384.19,331.55 L385.11,331.40 L386.02,331.23 L386.93,331.05 L387.84,330.90 L388.75,330.78 L389.66,330.72 L390.58,330.73 L391.49,330.81 L392.40,330.95 L393.31,331.15 L394.22,331.39 L395.13,331.64 L396.05,331.90 L396.96,332.13 L397.87,332.32 L398.78,332.46 L399.69,332.52 L400.61,332.52 L401.52,332.46 L402.43,332.34 L403.34,332.17 L404.25,331.99 L405.16,331.81 L406.08,331.64 L406.99,331.52 L407.90,331.44 L408.81,331.42 L409.72,331.47 L410.64,331.58 L411.55,331.74 L412.46,331.93 L413.37,332.14 L414.28,332.36 L415.19,332.55 L416.11,332.70 L417.02,332.81 L417.93,332.85 L418.84,332.84 L419.75,332.76 L420.67,332.64 L421.58,332.48 L422.49,332.30 L423.40,332.12 L424.31,331.96 L425.22,331.83 L426.14,331.75 L427.05,331.73 L427.96,331.76 L428.87,331.85 L429.78,331.99 L430.69,332.16 L431.61,332.35 L432.52,332.54 L433.43,332.71 L434.34,332.84 L435.25,332.93 L436.17,332.97 L437.08,332.95 L437.99,332.87 L438.90,332.75 L439.81,332.60 L440.72,332.42 L441.64,332.25 L442.55,332.10 L443.46,331.97 L444.37,331.89 L445.28,331.87 L446.20,331.90 L447.11,331.98 L448.02,332.10 L448.93,332.26 L449.84,332.44 L450.75,332.61 L451.67,332.77 L452.58,332.89 L453.49,332.97 L454.40,333.00 L455.31,332.98 L456.23,332.91 L457.14,332.79 L458.05,332.64 L458.96,332.47 L459.87,332.31 L460.78,332.16 L461.70,332.04 L462.61,331.96 L463.52,331.93 L464.43,331.96 L465.34,332.04 L466.26,332.16 L467.17,332.31 L468.08,332.47 L468.99,332.64 L469.90,332.79 L470.81,332.91 L471.73,332.98 L472.64,333.01 L473.55,332.99 L474.46,332.91 L475.37,332.80 L476.28,332.65 L477.20,332.49 L478.11,332.33 L479.02,332.18 L479.93,332.07 L480.84,331.99 L481.76,331.97 L482.67,331.99 L483.58,332.07 L484.49,332.18 L485.40,332.33 L486.31,332.49 L487.23,332.65 L488.14,332.80 L489.05,332.91 L489.96,332.99 L490.87,333.01 L491.79,332.99 L492.70,332.92 L493.61,332.80 L494.52,332.66 L495.43,332.50 L496.34,332.34 L497.26,332.19 L498.17,332.08 L499.08,332.01 L499.99,331.98 L500.90,332.01 L501.82,332.08 L502.73,332.20 L503.64,332.34 L504.55,332.50" stroke="#0000ff" stroke-dasharray="2.0 2.6"/>
</g>
</svg></body></html>
